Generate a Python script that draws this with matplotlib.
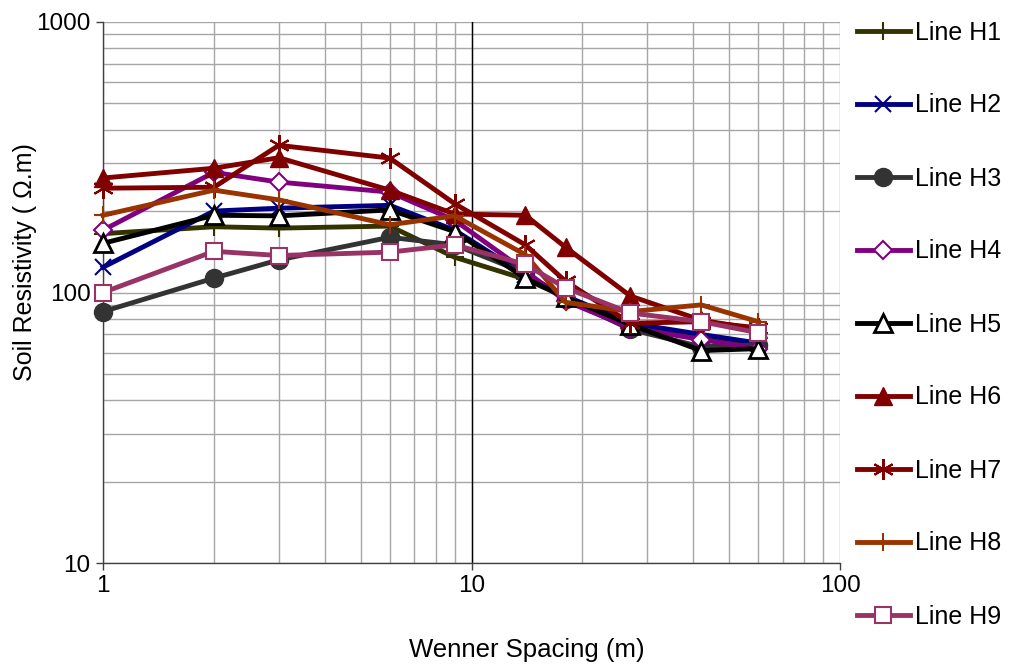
#!/usr/bin/env python3
"""Soil resistivity vs Wenner spacing, lines H1-H9 (log-log)."""

import matplotlib

matplotlib.use("Agg")
import matplotlib.pyplot as plt
from matplotlib.ticker import FixedLocator, LogLocator, NullFormatter

plt.rcParams["font.family"] = ["Liberation Sans", "DejaVu Sans"]

spacing = [1, 2, 3, 6, 9, 14, 18, 27, 42, 60]

line_h1 = [165, 175, 173, 176, 135, 112, 96, 78, 67, 65]
line_h2 = [124, 200, 205, 210, 170, 116, 97, 77, 70, 65]
line_h3 = [85, 113, 132, 160, 150, 118, 95, 73, 63, 64]
line_h4 = [170, 278, 256, 235, 185, 120, 93, 74, 67, 62]
line_h5 = [152, 193, 192, 202, 168, 113, 96, 76, 61, 62]
line_h6 = [265, 288, 315, 239, 195, 193, 147, 97, 79, 73]
line_h7 = [243, 245, 350, 314, 213, 150, 110, 77, 78, 74]
line_h8 = [193, 239, 220, 178, 192, 138, 92, 85, 90, 78]
line_h9 = [100, 142, 137, 141, 150, 127, 104, 84, 78, 71]

labels = ["Line H1", "Line H2", "Line H3", "Line H4", "Line H5",
          "Line H6", "Line H7", "Line H8", "Line H9"]
series = [line_h1, line_h2, line_h3, line_h4, line_h5,
          line_h6, line_h7, line_h8, line_h9]

# colour, marker, marker face, marker size, marker edge width
styles = [
    ("#333300", "+", "#333300", 13, 1.5),
    ("#000080", "x", "#000080", 12, 1.5),
    ("#333333", "o", "#333333", 13, 1.0),
    ("#800080", "D", "white", 9, 1.5),
    ("#000000", "^", "white", 13, 2.0),
    ("#800000", "^", "#800000", 13, 1.0),
    ("#800000", (6, 2, 0), "#800000", 15, 1.5),
    ("#993300", "+", "#993300", 13, 1.5),
    ("#993366", "s", "white", 12, 1.5),
]

fig = plt.figure(figsize=(10.13, 6.66), dpi=100)
ax = fig.add_axes([103 / 1013, 1 - 563 / 666, (840 - 103) / 1013, (563 - 22) / 666])

ax.set_xscale("log")
ax.set_yscale("log")
ax.set_xlim(1, 100)
ax.set_ylim(10, 1000)

ax.grid(True, which="both", color="#a6a6a6", linewidth=1.0)
ax.set_axisbelow(True)
ax.axvline(10, color="black", linewidth=1.0, zorder=1)

for vals, lab, (col, mk, face, ms, mew) in zip(series, labels, styles):
    ax.plot(spacing, vals, color=col, linewidth=3.5, marker=mk,
            markerfacecolor=face, markeredgecolor=col, markersize=ms,
            markeredgewidth=mew, label=lab, zorder=3, clip_on=False)

ax.xaxis.set_major_locator(FixedLocator([1, 10, 100]))
ax.yaxis.set_major_locator(FixedLocator([10, 100, 1000]))
ax.xaxis.set_minor_locator(LogLocator(base=10, subs=range(2, 10)))
ax.yaxis.set_minor_locator(LogLocator(base=10, subs=range(2, 10)))
ax.xaxis.set_minor_formatter(NullFormatter())
ax.yaxis.set_minor_formatter(NullFormatter())
ax.set_xticklabels(["1", "10", "100"])
ax.set_yticklabels(["10", "100", "1000"])
ax.tick_params(which="major", length=5, width=1, color="#404040",
               labelsize=17.5, direction="out", pad=4)
ax.tick_params(which="minor", length=0)

for side in ("top", "right"):
    ax.spines[side].set_visible(False)
for side in ("left", "bottom"):
    ax.spines[side].set_color("#404040")
    ax.spines[side].set_linewidth(1.0)

fig.text(25 / 1013, 1 - 262 / 666, "Soil Resistivity ( \u03a9.m)", rotation=90,
         ha="center", va="center", fontsize=18)
fig.text(527 / 1013, 1 - 650 / 666, "Wenner Spacing (m)",
         ha="center", va="center", fontsize=18.5)

fig.legend(loc="upper left", bbox_to_anchor=(844 / 1013, 1 - 8 / 666),
           frameon=False, fontsize=18, labelspacing=1.96, handlelength=2.15,
           handletextpad=0.2, borderpad=0, numpoints=1)

fig.savefig("out.png", dpi=100)
